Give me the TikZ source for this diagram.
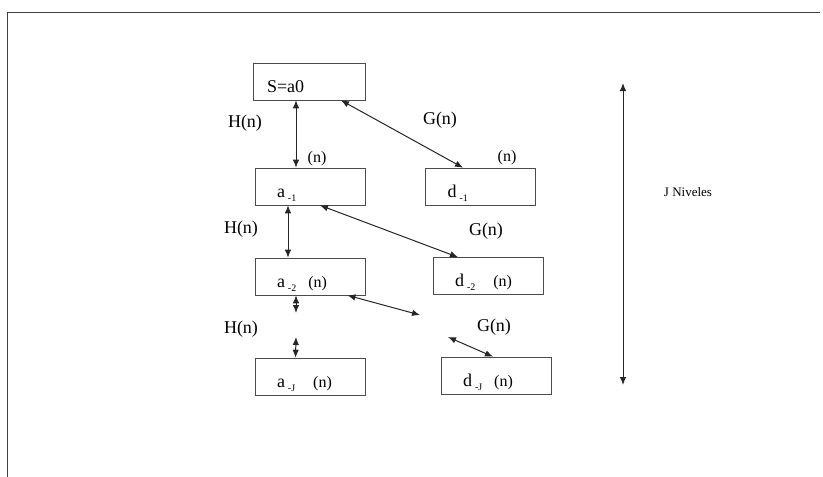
\documentclass[tikz,border=0pt]{standalone}
\usepackage{fontspec}
\setmainfont{Liberation Serif}
\usepackage{tikz}
\usetikzlibrary{calc}
\usetikzlibrary{arrows, arrows.meta, shapes}

\newcommand{\lev}[1]{\,\raisebox{-0.5ex}{\fontsize{10}{10}\selectfont #1}}

\begin{document}
\begin{tikzpicture}[x = 1pt, y = -1pt, >={Latex[length=8pt, width=6.5pt]}, font = \rmfamily]

\tikzstyle{box_c}=[rectangle, draw=black!70, line width = 0.6, minimum height = 37, text width = 66, text height = 23, text depth = 2, inner xsep = 22, inner ysep = 0, font = \rmfamily\fontsize{18}{20}\selectfont]
\tikzstyle{lbl}=[inner sep = 0, font = \rmfamily\fontsize{18}{20}\selectfont]
\tikzstyle{lbl_n}=[inner sep = 0, font = \rmfamily\fontsize{16}{18}\selectfont]

\useasboundingbox (0, 0) rectangle (823, 477);

%frame
\draw[line width = 0.8, color = black!75] (7, 477) -- (7, 12) -- (820, 12);

\coordinate (A) at (310, 81.5);
\coordinate (D1) at (480.5, 186.5);
\coordinate (D2) at (488, 276);
\coordinate (DJ) at (496, 375.5);

\path
($(A) + (-1, 0)$) node[box_c, text width = 84, inner xsep = 14](s0) {S=a0}
($(A) + (0, 105)$) node[box_c](a1) {a\lev{-1}}
($(A) + (0, 195)$) node[box_c](a2) {a\lev{-2}\ \ {\fontsize{16}{18}\selectfont(n)}}
($(A) + (0, 295)$) node[box_c](aJ) {a\lev{-J}\ \ \ {\fontsize{16}{18}\selectfont(n)}}
($(D1)$) node[box_c](d1) {d\lev{-1}}
($(D2)$) node[box_c](d2) {d\lev{-2}\ \ \ {\fontsize{16}{18}\selectfont(n)}}
($(DJ)$) node[box_c](dJ) {d\lev{-J}\ \ {\fontsize{16}{18}\selectfont(n)}};

\path
(245, 123) node[lbl](h1) {H(n)}
(241, 229) node[lbl](h2) {H(n)}
(241, 329) node[lbl](h3) {H(n)}
(440, 120) node[lbl](g1) {G(n)}
(486, 231) node[lbl](g2) {G(n)}
(494, 327) node[lbl](g3) {G(n)}
(317, 159) node[lbl_n](n1) {(n)}
(507, 158) node[lbl_n](n2) {(n)}
(688, 192) node[inner sep = 0, font = \rmfamily\fontsize{13}{15}\selectfont](lev) {J Niveles};

\coordinate (a2m) at (296, 313);
\coordinate (aJm) at (296, 337);
\coordinate (a2p) at (420, 315);
\coordinate (dJp) at (448, 337);
\coordinate (jtop) at (623, 83);
\coordinate (jbot) at (623, 385);

%arrows
\draw[<->, line width = 1, color = black!85] ($(s0.south) + (-13, 0)$) to ($(a1.north) + (-14, 0)$);
\draw[<->, line width = 1, color = black!85] ($(s0.south) + (32, 0)$) to ($(d1.north) + (-17.5, 0)$);
\draw[<->, line width = 1, color = black!85] ($(a1.south) + (-22, 0)$) to ($(a2.north) + (-22, 0)$);
\draw[<->, line width = 1, color = black!85] ($(a1.south) + (10, 0)$) to ($(d2.north) + (-30, 0)$);
\draw[<->, line width = 1, color = black!85] ($(a2.south) + (-14, 0)$) to (a2m);
\draw[<->, line width = 1, color = black!85] (aJm) to ($(aJ.north) + (-14.5, 0)$);
\draw[<->, line width = 1, color = black!85] ($(a2.south) + (37.5, 0)$) to (a2p);
\draw[<->, line width = 1, color = black!85] (dJp) to ($(dJ.north) + (-3, 0)$);
\draw[<->, line width = 1, color = black!85] (jtop) to (jbot);

\end{tikzpicture}
\end{document}
